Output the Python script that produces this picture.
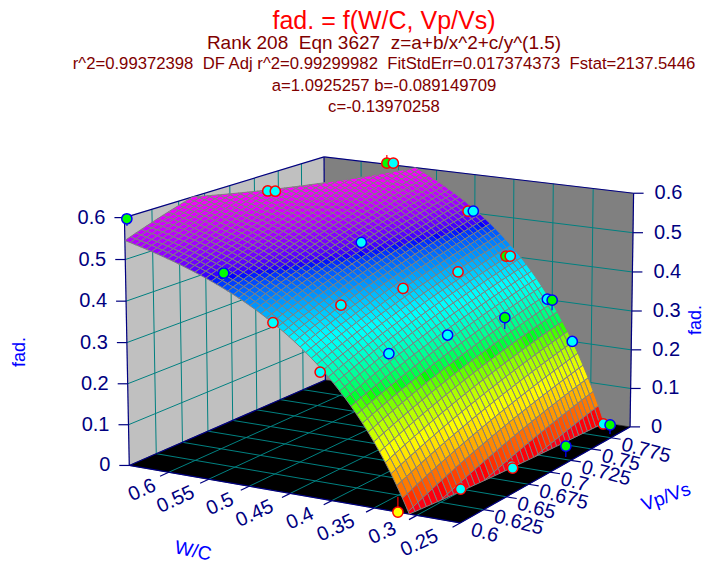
import numpy as np, altair as alt, pandas as pd

# --- text printed on the chart ---
S = "\u00a0\u00a0"
title_lines = [
    ("fad. = f(W/C, Vp/Vs)", 21, 25, "#FF0000"),
    (f"Rank 208{S}Eqn 3627{S}z=a+b/x^2+c/y^(1.5)", 43, 19, "#800000"),
    (f"r^2=0.99372398{S}DF Adj r^2=0.99299982{S}FitStdErr=0.017374373{S}Fstat=2137.5446", 64, 16.7, "#800000"),
    ("a=1.0925257 b=-0.089149709", 86, 16.7, "#800000"),
    ("c=-0.13970258", 107, 16.7, "#800000"),
]
x_ticks = [0.25, 0.3, 0.35, 0.4, 0.45, 0.5, 0.55, 0.6]
x_labels = ["0.25", "0.3", "0.35", "0.4", "0.45", "0.5", "0.55", "0.6"]
y_ticks = [0.6, 0.625, 0.65, 0.675, 0.7, 0.725, 0.75, 0.775]
y_labels = ["0.6", "0.625", "0.65", "0.675", "0.7", "0.725", "0.75", "0.775"]
z_ticks = [0, 0.1, 0.2, 0.3, 0.4, 0.5, 0.6]
z_labels = ["0", "0.1", "0.2", "0.3", "0.4", "0.5", "0.6"]

# --- measured points ---
wc = [.647, .528, .469, .413, .322, .304, .296, .295, .281, .274, .275, .39, .375, .358, .346, .35, .448, .43, .417, .399, .404, .324, .482, .448, .452, .588, .591, .554, .557]
vp = [.6, .6, .6, .6, .6, .65, .7, .7, .75, .79, .8, .65, .7, .75, .79, .8, .65, .7, .75, .79, .8, .8, .7, .79, .8, .69, .7, .79, .8]
fad = [.598, .5, .4, .3, 0, 0, 0, -.005, -.003, .011, -.003, .3, .3, .3, .313, .3, .4, .4, .4, .41, .4, .2, .5, .514, .505, .609, .6, .613, .605]
fit = [.581, .5, .4, .3, .036, 0, 0, -.005, -.031, .011, -.027, .3, .3, .271, .313, .274, .4, .4, .4, .41, .4, .2, .5, .514, .505, .609, .6, .634, .605]
fills = ["g", "g", "c", "c", "y", "c", "c", "c", "g", "c", "g", "c", "c", "g", "c", "g", "c", "c", "c", "g", "c", "c", "c", "c", "c", "c", "c", "g", "c"]
edges = ["b", "b", "r", "r", "r", "r", "r", "r", "b", "r", "b", "b", "b", "b", "b", "b", "r", "r", "r", "r", "r", "b", "b", "r", "b", "r", "r", "r", "r"]

XMIN, XMAX, YMIN, YMAX, ZMAX = 0.25, 0.65, 0.6, 0.8, 0.6
W, H = 697, 557
# camera (perspective view of the unit box)
P = np.array([[-323.62119, 246.91042, -7.36006, 460.19175],
              [-31.26141, -43.82143, -265.66549, 522.90425],
              [0.05627, 0.12228, -0.01787, 1.0]])


def proj(x, y, z):
    q = P @ np.array([(x - XMIN) / (XMAX - XMIN), (y - YMIN) / (YMAX - YMIN), z / ZMAX, 1.0])
    return float(q[0] / q[2] - 8), float(q[1] / q[2] - 8)


def seg(p, q, **kw):
    u, v = proj(*p)
    u2, v2 = proj(*q)
    return dict(u=u, v=v, u2=u2, v2=v2, **kw)


def poly(pts, **props):
    ring = [list(proj(*p)) for p in pts]
    ring.append(ring[0])
    return {"type": "Feature", "geometry": {"type": "Polygon", "coordinates": [ring]}, "properties": props}


# the chart's equation form, least-squares fitted to the measured points
_X = np.array(wc); _Y = np.array(vp)
coef = np.linalg.lstsq(np.c_[np.ones(len(_X)), 1 / _X**2, 1 / _Y**1.5], np.array(fit), rcond=None)[0]


def surf(x, y):
    return coef[0] + coef[1] / x**2 + coef[2] / y**1.5


def clip(pts, lim, keep_above):
    out = []
    for i in range(len(pts)):
        p, q = np.array(pts[i]), np.array(pts[(i + 1) % len(pts)])
        pin = p[2] >= lim if keep_above else p[2] <= lim
        qin = q[2] >= lim if keep_above else q[2] <= lim
        if pin:
            out.append(tuple(p))
        if pin != qin:
            t = (lim - p[2]) / (q[2] - p[2])
            out.append(tuple(p + t * (q - p)))
    return out


# surface: back cells first
NX, NY = 60, 40
xs = np.linspace(XMAX, XMIN, NX + 1)
ys = np.linspace(YMAX, YMIN, NY + 1)
cells = []
for i in range(NX):
    for j in range(NY):
        q = [(xs[i], ys[j]), (xs[i + 1], ys[j]), (xs[i + 1], ys[j + 1]), (xs[i], ys[j + 1])]
        q = [(x, y, surf(x, y)) for x, y in q]
        q = clip(q, 0, True)
        if q:
            q = clip(q, ZMAX, False)
        if len(q) >= 3:
            zm = float(np.mean([p[2] for p in q]))
            cells.append(poly(q, z=round(zm, 4)))

identity = dict(type="identity", scale=1, translate=[0, 0])
walls = [
    ([(XMAX, YMIN, 0), (XMAX, YMAX, 0), (XMAX, YMAX, ZMAX), (XMAX, YMIN, ZMAX)], "#C0C0C0"),
    ([(XMAX, YMAX, 0), (XMIN, YMAX, 0), (XMIN, YMAX, ZMAX), (XMAX, YMAX, ZMAX)], "#808080"),
    ([(XMIN, YMIN, 0), (XMAX, YMIN, 0), (XMAX, YMAX, 0), (XMIN, YMAX, 0)], "#000000"),
]
xsc = alt.Scale(domain=[0, W], range=[0, W], nice=False, zero=False)
ysc = alt.Scale(domain=[0, H], range=[0, H], nice=False, zero=False)


def rules(rows, color, width=1.0):
    return alt.Chart(pd.DataFrame(rows)).mark_rule(color=color, strokeWidth=width).encode(
        x=alt.X("u:Q", scale=xsc, axis=None), y=alt.Y("v:Q", scale=ysc, axis=None),
        x2="u2:Q", y2="v2:Q")


def texts(rows, color, size, align="center", angle=0, font="Liberation Sans"):
    return alt.Chart(pd.DataFrame(rows)).mark_text(color=color, fontSize=size, align=align, angle=angle,
                                                   baseline="middle", font=font).encode(
        x=alt.X("u:Q", scale=xsc, axis=None), y=alt.Y("v:Q", scale=ysc, axis=None), text="t:N")


layers = []
for pts, col in walls:
    layers.append(alt.Chart(alt.Data(values=[poly(pts)])).mark_geoshape(fill=col, stroke=col, strokeWidth=0.5).project(**identity))

# grid
grid = []
for xv in [0.3, 0.35, 0.4, 0.45, 0.5, 0.55, 0.6]:
    grid.append(seg((xv, YMIN, 0), (xv, YMAX, 0)))
    grid.append(seg((xv, YMAX, 0), (xv, YMAX, ZMAX)))
for yv in [0.625, 0.65, 0.675, 0.7, 0.725, 0.75, 0.775]:
    grid.append(seg((XMIN, yv, 0), (XMAX, yv, 0)))
    grid.append(seg((XMAX, yv, 0), (XMAX, yv, ZMAX)))
for zv in z_ticks[1:-1]:
    grid.append(seg((XMAX, YMIN, zv), (XMAX, YMAX, zv)))
    grid.append(seg((XMAX, YMAX, zv), (XMIN, YMAX, zv)))
layers.append(rules(grid, "#008080"))

# box
box = [
    seg((XMAX, YMIN, 0), (XMAX, YMIN, ZMAX)), seg((XMAX, YMIN, ZMAX), (XMAX, YMAX, ZMAX)),
    seg((XMAX, YMAX, ZMAX), (XMIN, YMAX, ZMAX)), seg((XMIN, YMAX, ZMAX), (XMIN, YMAX, 0)),
    seg((XMAX, YMAX, ZMAX), (XMAX, YMAX, 0)),
    seg((XMAX, YMIN, 0), (XMIN, YMIN, 0)), seg((XMIN, YMIN, 0), (XMIN, YMAX, 0)), seg((XMAX, YMIN, 0), (XMAX, YMAX, 0)),
]
# ticks
TX, TY = 0.008, 0.012
for xv in x_ticks:
    box.append(seg((xv, YMIN, 0), (xv, YMIN - TX, 0)))
for yv in y_ticks[1:]:
    box.append(seg((XMIN, yv, 0), (XMIN - TY, yv, 0)))
zl, zr = [], []
for zv, t in zip(z_ticks, z_labels):
    u, v = proj(XMAX, YMIN, zv)
    box.append(dict(u=u - 10, v=v, u2=u, v2=v))
    zl.append(dict(u=u - 19, v=v, t=t))
    u, v = proj(XMIN, YMAX, zv)
    box.append(dict(u=u, v=v, u2=u + 10, v2=v))
    zr.append(dict(u=u + 21, v=v, t=t))
layers.append(rules(box, "#000080", 1.2))

layers.append(
    alt.Chart(alt.Data(values=cells)).mark_geoshape(stroke="#808080", strokeWidth=1).encode(
        color=alt.Color("properties.z:Q", legend=None,
                        scale=alt.Scale(domain=[0.02, .13, .24, .36, .48, .6],
                                        range=["#FF0000", "#FFFF00", "#00FF00", "#00FFFF", "#0000FF", "#FF00FF"]))
    ).project(**identity))

# drop lines and points
cols = {"g": "#00FF00", "c": "#00FFFF", "y": "#FFFF00", "r": "#FF0000", "b": "#0000FF"}
drops, marks = [], []
for x, y, z, f, fl, e in zip(wc, vp, fad, fit, fills, edges):
    u, v = proj(x, y, z)
    marks.append(dict(u=u, v=v, fl=cols[fl], e=cols[e]))
    if f != z:
        u2, v2 = proj(x, y, f)
        drops.append(dict(u=u, v=v, u2=u2, v2=v2, e=cols[e]))
layers.append(alt.Chart(pd.DataFrame(drops)).mark_rule(strokeWidth=1.2).encode(
    x=alt.X("u:Q", scale=xsc, axis=None), y=alt.Y("v:Q", scale=ysc, axis=None), x2="u2:Q", y2="v2:Q",
    color=alt.Color("e:N", scale=None)))
layers.append(alt.Chart(pd.DataFrame(marks)).mark_point(filled=False, shape="circle", size=105, strokeWidth=1.5, opacity=1).encode(
    x=alt.X("u:Q", scale=xsc, axis=None), y=alt.Y("v:Q", scale=ysc, axis=None),
    fill=alt.Fill("fl:N", scale=None), stroke=alt.Stroke("e:N", scale=None)))

# tick labels
xl, yl = [], []
for xv, t in zip(x_ticks, x_labels):
    u, v = proj(xv, YMIN, 0)
    xl.append(dict(u=u - 14 - 26 * (0.6 - xv), v=v + 12, t=t))
for yv, t in zip(y_ticks, y_labels):
    u, v = proj(XMIN, yv, 0)
    yl.append(dict(u=u + 11, v=v + 6.5, t=t))
layers.append(texts(xl, "#000080", 20, align="right", angle=335))
layers.append(texts(yl, "#000080", 20, align="left", angle=15))
layers.append(texts(zl, "#000080", 20, align="right"))
layers.append(texts(zr, "#000080", 20, align="left"))

# axis titles
layers.append(texts([dict(u=185, v=543, t="W/C")], "#0000FF", 19, angle=12))
layers.append(texts([dict(u=658, v=489, t="Vp/Vs")], "#0000FF", 19, angle=340))
layers.append(texts([dict(u=12, v=344, t="fad.")], "#0000FF", 18, angle=270))
layers.append(texts([dict(u=688, v=312, t="fad.")], "#0000FF", 18, angle=270))

# titles
for t, v, s, col in title_lines:
    layers.append(texts([dict(u=376, v=v - 8, t=t)], col, s))

chart = alt.layer(*layers).properties(width=W, height=H, padding=0, autosize=alt.AutoSizeParams(type="none"),
                                      background="white").configure_view(stroke=None)
chart.save("out.html", embed_options={"renderer": "svg", "actions": False})
